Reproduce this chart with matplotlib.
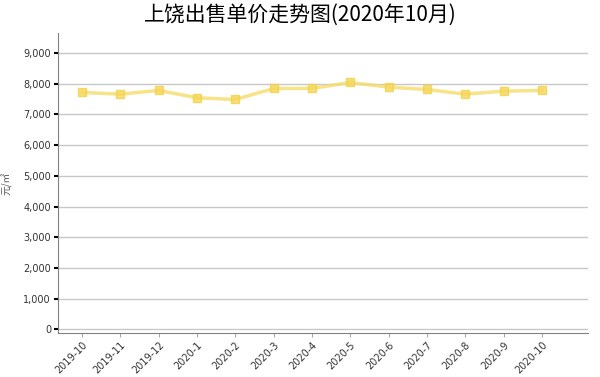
import matplotlib
matplotlib.use("Agg")
import matplotlib.pyplot as plt
from matplotlib.ticker import FuncFormatter

plt.rcParams["font.family"] = ["DejaVu Sans", "Noto Sans CJK SC"]

months = ["2019-10", "2019-11", "2019-12", "2020-1", "2020-2", "2020-3", "2020-4",
          "2020-5", "2020-6", "2020-7", "2020-8", "2020-9", "2020-10"]
prices = [7718, 7662, 7783, 7543, 7489, 7848, 7848, 8043, 7891, 7815, 7662, 7760, 7783]
yticks = [0, 1000, 2000, 3000, 4000, 5000, 6000, 7000, 8000, 9000]

fig = plt.figure(figsize=(6, 3.77), dpi=100)
ax = fig.add_axes([0.0967, 0.117, 0.883, 0.795])

x = list(range(len(months)))
ax.plot(x, prices, color="#f6dc6a", linewidth=2.5, alpha=0.8, zorder=3)
ax.plot(x, prices, linestyle="none", marker="s", markersize=6,
        markerfacecolor="#f5d757", markeredgecolor="#f3d24a", alpha=0.8, zorder=4)

ax.set_xlim(-0.63, 13.2)
ax.set_ylim(-120, 9650)
ax.set_yticks(yticks)
ax.yaxis.set_major_formatter(FuncFormatter(lambda v, p: f"{int(v):,}"))
ax.set_xticks(x)
ax.set_xticklabels(months, rotation=45, ha="right", rotation_mode="anchor")

ax.grid(axis="y", color="#c8c8c8", linewidth=1)
ax.set_axisbelow(True)
for s in ["top", "right"]:
    ax.spines[s].set_visible(False)
for s in ["left", "bottom"]:
    ax.spines[s].set_color("#808080")
ax.tick_params(axis="y", length=3, width=1.5, color="black", labelsize=7, pad=2, labelcolor="#333333")
ax.tick_params(axis="x", length=3, width=0.8, color="#aaaaaa", labelsize=7, pad=2, labelcolor="#333333")

ax.set_ylabel("元/㎡", fontsize=7, family=["Noto Sans CJK SC", "DejaVu Sans"], labelpad=8, color="#555555")
fig.suptitle("上饶出售单价走势图(2020年10月)", fontsize=15, y=0.99,
             family=["Noto Sans CJK SC", "DejaVu Sans"])

fig.savefig("out.png", dpi=100)
